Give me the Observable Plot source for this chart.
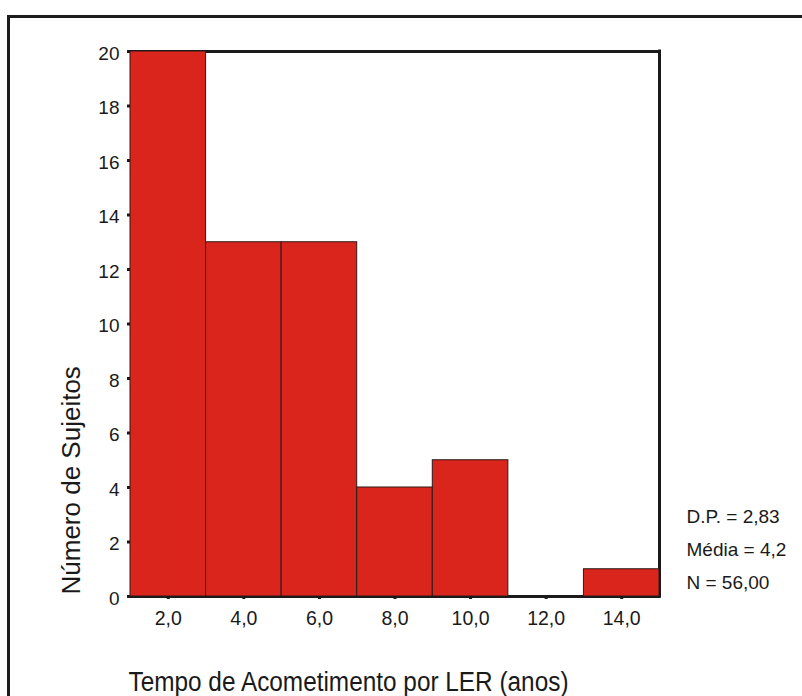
<!DOCTYPE html>
<html>
<head>
<meta charset="utf-8">
<script src="https://cdn.jsdelivr.net/npm/d3@7"></script>
<script src="https://cdn.jsdelivr.net/npm/@observablehq/plot@0.6"></script>
<style>
  html, body { margin: 0; padding: 0; background: #fff; overflow: hidden; width: 802px; height: 696px; }
  #wrap { position: relative; width: 802px; height: 696px; }
  #outer { position: absolute; left: 7px; top: 15px; width: 900px; height: 800px;
           border-left: 3px solid #1c1c1c; border-top: 3px solid #1c1c1c; box-sizing: border-box; }
  #chart { position: absolute; left: 0; top: 0; }
</style>
</head>
<body>
<div id="wrap"><div id="outer"></div><div id="chart"></div></div>
<script>
const binEdges = [1, 3, 5, 7, 9, 11, 13, 15];
const counts = [20, 13, 13, 4, 5, 0, 1];
const xTicks = [2, 4, 6, 8, 10, 12, 14];
const xTickLabels = ["2,0", "4,0", "6,0", "8,0", "10,0", "12,0", "14,0"];
const yTicks = [0, 2, 4, 6, 8, 10, 12, 14, 16, 18, 20];
const yDomain = [0, 20];
const xDomain = [1, 15];
const stats = ["D.P. = 2,83", "Média = 4,2", "N = 56,00"];
const xTitle = "Tempo de Acometimento por LER (anos)";
const yTitle = "Número de Sujeitos";

const bins = counts.map((c, i) => ({x1: binEdges[i], x2: binEdges[i + 1], count: c}));
const ink = "#1a1a1a";

const chart = Plot.plot({
  width: 802,
  height: 696,
  marginLeft: 130,
  marginRight: 143,
  marginTop: 51,
  marginBottom: 100,
  x: {domain: xDomain},
  y: {domain: yDomain},
  style: {fontFamily: "'Liberation Sans', Arial, sans-serif", background: "transparent", color: ink},
  marks: [
    Plot.ruleY([yDomain[0], yDomain[1]], {stroke: ink, strokeWidth: 3, strokeLinecap: "square"}),
    Plot.ruleX([xDomain[1]], {stroke: ink, strokeWidth: 3, strokeLinecap: "square"}),
    Plot.rectY(bins, {x1: "x1", x2: "x2", y: "count", fill: "#da251d", stroke: "#2a1b1b", strokeWidth: 1}),
    Plot.axisY(yTicks, {tickSize: 3, strokeWidth: 3, tickFormat: () => "", label: null, stroke: ink}),
    Plot.axisX(xTicks, {tickSize: 3, strokeWidth: 3, tickFormat: () => "", label: null, stroke: ink}),
    Plot.text(yTicks, {y: d => d, text: d => String(d), frameAnchor: "left", textAnchor: "end",
      dx: -11, dy: 2, fontSize: 19, fill: ink}),
    Plot.text(xTicks, {x: d => d, text: (d, i) => xTickLabels[i], frameAnchor: "bottom", lineAnchor: "top",
      dy: 15, fontSize: 19.5, fill: ink}),
    Plot.text([yTitle], {text: d => d, frameAnchor: "bottom-left", rotate: -90, textAnchor: "start",
      lineAnchor: "middle", dx: -59, dy: -2, fontSize: 26, fill: ink}),
    Plot.text([xTitle], {text: d => d, frameAnchor: "bottom-left", textAnchor: "start",
      lineAnchor: "bottom", dx: -2, dy: 94, fontSize: 27, fill: ink}),
    Plot.text([stats.join("\n")], {text: d => d, frameAnchor: "bottom-right", textAnchor: "start",
      lineAnchor: "bottom", lineHeight: 33 / 19, dx: 27, dy: -8, fontSize: 19, fill: ink})
  ]
});
const svg = d3.select(chart);
// squeeze the x title to the reference width (the source art is horizontally condensed)
svg.selectAll("text").filter(function() { return this.textContent === xTitle; })
  .attr("textLength", 440).attr("lengthAdjust", "spacingAndGlyphs");
document.getElementById("chart").appendChild(chart);
</script>
</body>
</html>
